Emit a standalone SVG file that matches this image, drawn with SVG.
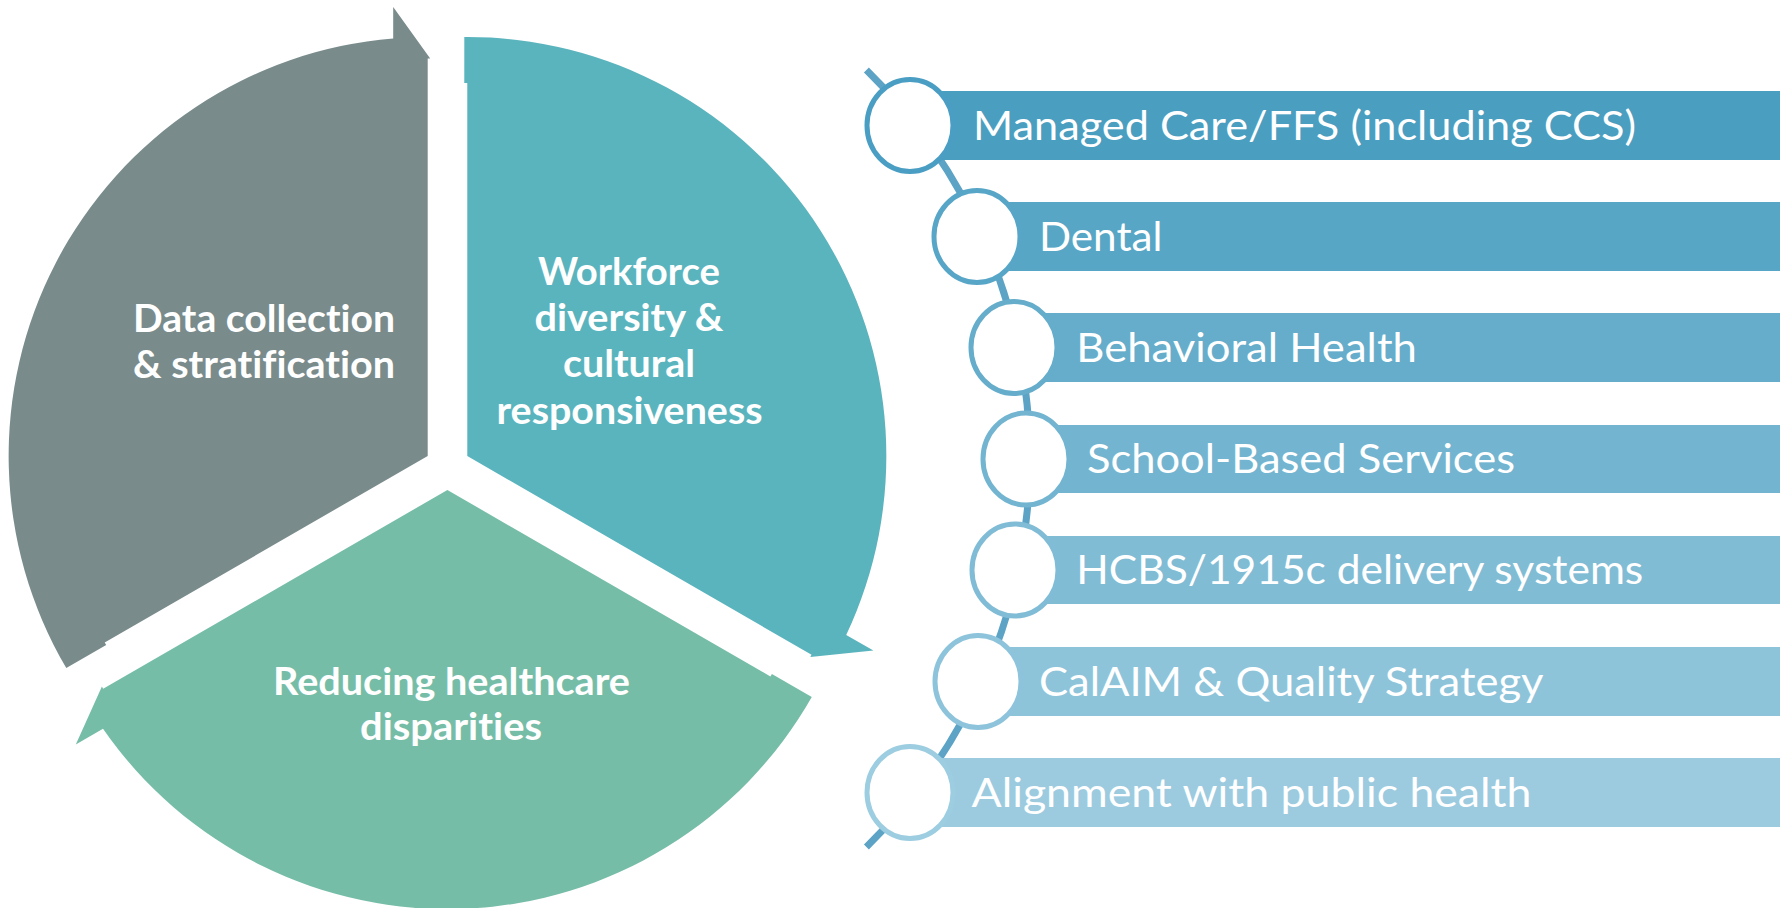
<svg xmlns="http://www.w3.org/2000/svg" width="1785" height="908" viewBox="0 0 1785 908">
<defs>
<style>
.seg-label{font-family:Lato,"Open Sans","Liberation Sans",sans-serif;font-weight:700;font-size:38px;fill:#ffffff;text-anchor:middle;font-variant-ligatures:none}
.item-label{font-family:Lato,"Open Sans","Liberation Sans",sans-serif;font-size:40px;fill:#ffffff;font-variant-ligatures:none}
.ring{fill:#ffffff;stroke-width:5}
</style>
<path id="wedge" d="M 0 0 L -323 186.5 L -321.5 189.1 L -361.4 212.1 A 419 419 0 0 1 -34.5 -417.6 L -34.5 -449 L 2.5 -397.5 L 0 -397.5 Z"/>
</defs>
<rect x="0" y="0" width="1785" height="908" fill="#ffffff"/>

<g id="seg-data">
<use href="#wedge" transform="translate(427.7,456)" fill="#7A8B8C"/>
<text class="seg-label" x="264" y="332" textLength="262" lengthAdjust="spacingAndGlyphs">Data collection</text>
<text class="seg-label" x="264" y="378" textLength="262" lengthAdjust="spacingAndGlyphs">&amp; stratification</text>
</g>
<g id="seg-workforce">
<use href="#wedge" transform="translate(467.3,456) rotate(120)" fill="#5AB4BE"/>
<text class="seg-label" x="629" y="285" textLength="182" lengthAdjust="spacingAndGlyphs">Workforce</text>
<text class="seg-label" x="629" y="331" textLength="189" lengthAdjust="spacingAndGlyphs">diversity &amp;</text>
<text class="seg-label" x="629" y="377" textLength="132" lengthAdjust="spacingAndGlyphs">cultural</text>
<text class="seg-label" x="629.5" y="424" textLength="266" lengthAdjust="spacingAndGlyphs">responsiveness</text>
</g>
<g id="seg-disparities">
<use href="#wedge" transform="translate(447.4,490) rotate(240)" fill="#76BDA8"/>
<text class="seg-label" x="451.5" y="695" textLength="357" lengthAdjust="spacingAndGlyphs">Reducing healthcare</text>
<text class="seg-label" x="451" y="740" textLength="182" lengthAdjust="spacingAndGlyphs">disparities</text>
</g>

<g id="connectors">
<path d="M 866.4 70 A 543.7 543.7 0 0 1 866.4 847" fill="none" stroke="#5CA3C6" stroke-width="7"/>
</g>

<g id="item-1">
<rect x="910" y="91" width="870" height="69" fill="#4A9EC0"/>
<ellipse class="ring" cx="910" cy="125.5" rx="43" ry="46" stroke="#4A9EC3"/>
<text class="item-label" x="973" y="139.5" textLength="663" lengthAdjust="spacingAndGlyphs">Managed Care/FFS (including CCS)</text>
</g>
<g id="item-2">
<rect x="977" y="202" width="803" height="69" fill="#58A6C5"/>
<ellipse class="ring" cx="977" cy="236.5" rx="43" ry="46" stroke="#58A6C7"/>
<text class="item-label" x="1039" y="250.5" textLength="123.5" lengthAdjust="spacingAndGlyphs">Dental</text>
</g>
<g id="item-3">
<rect x="1014" y="313" width="766" height="69" fill="#65ADCA"/>
<ellipse class="ring" cx="1014" cy="347.5" rx="43" ry="46" stroke="#65ADCB"/>
<text class="item-label" x="1076.3" y="361.5" textLength="340.6" lengthAdjust="spacingAndGlyphs">Behavioral Health</text>
</g>
<g id="item-4">
<rect x="1026" y="425" width="754" height="68" fill="#73B5D0"/>
<ellipse class="ring" cx="1026" cy="459" rx="43" ry="46" stroke="#73B5D1"/>
<text class="item-label" x="1087" y="473" textLength="428" lengthAdjust="spacingAndGlyphs">School-Based Services</text>
</g>
<g id="item-5">
<rect x="1015" y="536" width="765" height="68" fill="#81BCD5"/>
<ellipse class="ring" cx="1015" cy="570" rx="43" ry="46" stroke="#81BCD6"/>
<text class="item-label" x="1076.3" y="584" textLength="567" lengthAdjust="spacingAndGlyphs">HCBS/1915c delivery systems</text>
</g>
<g id="item-6">
<rect x="978" y="647" width="802" height="69" fill="#8EC4DA"/>
<ellipse class="ring" cx="978" cy="681.5" rx="43" ry="46" stroke="#8EC4DB"/>
<text class="item-label" x="1039" y="695.5" textLength="504.5" lengthAdjust="spacingAndGlyphs">CalAIM &amp; Quality Strategy</text>
</g>
<g id="item-7">
<rect x="910" y="758" width="870" height="69" fill="#9CCBDF"/>
<ellipse class="ring" cx="910" cy="792.5" rx="43" ry="46" stroke="#9CCDE0"/>
<text class="item-label" x="971.5" y="806.5" textLength="560" lengthAdjust="spacingAndGlyphs">Alignment with public health</text>
</g>
</svg>
